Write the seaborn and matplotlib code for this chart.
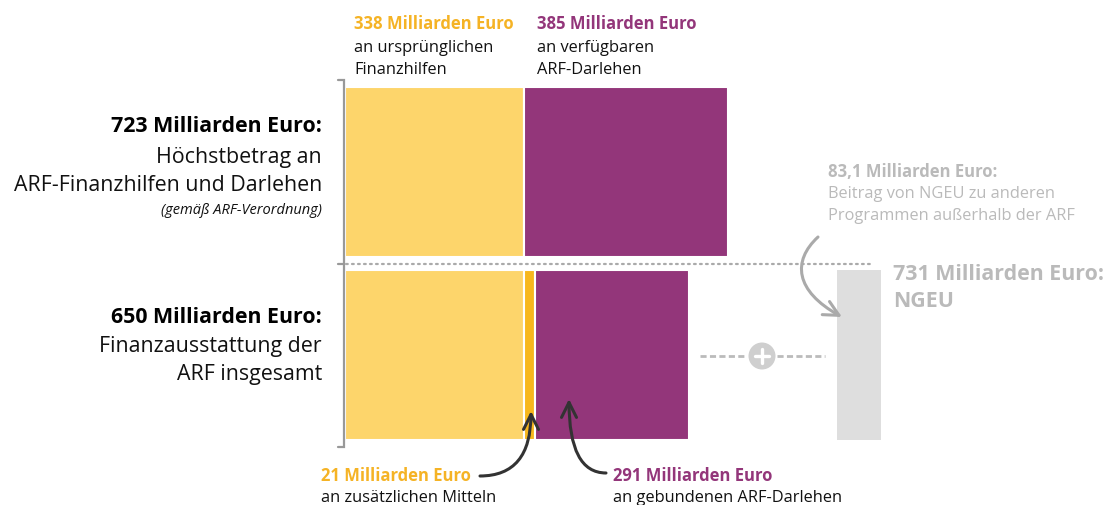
import numpy as np
import pandas as pd
import matplotlib
matplotlib.use("Agg")
import matplotlib.pyplot as plt
import seaborn as sns
from matplotlib.patches import FancyArrowPatch, Circle
from matplotlib.path import Path
from matplotlib.lines import Line2D
from matplotlib.transforms import IdentityTransform

# ---------------- data ----------------
rows = ["Höchstbetrag", "Finanzausstattung"]
grants_orig = [338, 338]     # ursprüngliche Finanzhilfen
grants_extra = [0, 21]       # zusätzliche Mittel
loans = [385, 291]           # verfügbare / gebundene ARF-Darlehen
ngeu_other = [0, 83.1]       # Beitrag von NGEU zu anderen Programmen
totals = [723, 650]
ngeu_total = 731

# ---------------- style ----------------
sns.set_theme(style="white")
FONT = ["Open Sans", "DejaVu Sans"]
plt.rcParams["font.family"] = FONT

YEL_BAR = "#FDD56B"
ORA_BAR = "#F7B71D"
YEL_TXT = "#F5B325"
PUR = "#93367A"
GREY_BAR = "#DEDEDE"
GREY_TXT = "#BABABA"
DARK = "#333333"

W, H = 1112, 506
fig = plt.figure(figsize=(W / 100, H / 100), dpi=100)
ax = fig.add_axes([0, 0, 1, 1])

df = pd.DataFrame({"row": rows, "orig": grants_orig, "extra": grants_extra,
                   "loans": loans, "other": ngeu_other})
df["left_extra"] = df["orig"]
df["left_loans"] = df["orig"] + df["extra"]

BAR_W = 0.93
common = dict(data=df, y="row", order=rows, orient="y", width=BAR_W,
              errorbar=None, saturation=1, ax=ax)
sns.barplot(x="orig", color=YEL_BAR, edgecolor="white", linewidth=1.5, **common)
sns.barplot(x="extra", color=ORA_BAR, edgecolor="white", linewidth=1.5,
            left=df["left_extra"].to_numpy(), **common)
sns.barplot(x="loans", color=PUR, edgecolor="white", linewidth=1.5,
            left=df["left_loans"].to_numpy(), **common)
NGEU_LEFT = 929
sns.barplot(x="other", color=GREY_BAR, linewidth=0,
            left=np.full(len(rows), NGEU_LEFT), **common)

# map data to the reference pixel grid
K = 0.5297   # px per unit
X0 = 345     # px of value 0
ax.set_xlim(-X0 / K, (W - X0) / K)
ax.set_ylim(1 + (H - 356) / 183, -173 / 183)
ax.set_axis_off()

# ---------------- helpers ----------------
def T(x, y, s, size, color, weight="normal", ha="left", style="normal"):
    fig.text(x / W, 1 - y / H, s, fontsize=size, color=color, fontweight=weight,
             ha=ha, va="baseline", style=style, family=FONT)

def L(xs, ys, **kw):
    fig.add_artist(Line2D([x / W for x in xs], [1 - y / H for y in ys],
                          transform=fig.transFigure, **kw))

# ---------------- bracket & separators ----------------
L([338, 344, 344, 338], [81, 81, 448, 448], color="#999999", lw=1.6,
  solid_joinstyle="miter")
L([338, 344], [265, 265], color="#999999", lw=1.6)
L([346, 872], [265, 265], color="#AAAAAA", lw=1.6, linestyle=(0, (0.8, 1.9)),
  dash_capstyle="round")

# ---------------- texts ----------------
S_SB = 12.0    # small bold
S_SR = 11.8    # small regular
S_BIG = 15.4
T(354, 29, f"{grants_orig[0]} Milliarden Euro", S_SB, YEL_TXT, "bold")
T(354, 52, "an ursprünglichen", S_SR, "#111111")
T(354, 74, "Finanzhilfen", S_SR, "#111111")
T(537, 29, f"{loans[0]} Milliarden Euro", S_SB, PUR, "bold")
T(537, 52, "an verfügbaren", S_SR, "#111111")
T(537, 74, "ARF-Darlehen", S_SR, "#111111")

T(322, 132, f"{totals[0]} Milliarden Euro:", S_BIG, "#000000", "bold", ha="right")
T(322, 163, "Höchstbetrag an", S_BIG, "#111111", ha="right")
T(322, 191, "ARF-Finanzhilfen und Darlehen", S_BIG, "#111111", ha="right")
T(322, 214, "(gemäß ARF-Verordnung)", 10.5, "#111111", ha="right", style="italic")

T(322, 323, f"{totals[1]} Milliarden Euro:", S_BIG, "#000000", "bold", ha="right")
T(322, 352, "Finanzausstattung der", S_BIG, "#111111", ha="right")
T(322, 380, "ARF insgesamt", S_BIG, "#111111", ha="right")

ngeu_txt = f"{ngeu_other[1]:.1f}".replace(".", ",")
T(828, 177, f"{ngeu_txt} Milliarden Euro:", S_SB, GREY_TXT, "bold")
T(828, 198, "Beitrag von NGEU zu anderen", S_SR, GREY_TXT)
T(828, 220, "Programmen außerhalb der ARF", S_SR, GREY_TXT)
T(893, 280, f"{ngeu_total} Milliarden Euro:", S_BIG, GREY_TXT, "bold")
T(893, 307, "NGEU", S_BIG, GREY_TXT, "bold")

T(321, 481, f"{grants_extra[1]} Milliarden Euro", S_SB, YEL_TXT, "bold")
T(321, 502, "an zusätzlichen Mitteln", S_SR, "#111111")
T(613, 481, f"{loans[1]} Milliarden Euro", S_SB, PUR, "bold")
T(613, 502, "an gebundenen ARF-Darlehen", S_SR, "#111111")

# ---------------- arrows ----------------
def P(x, y):
    return (x, H - y)

arrow_kw = dict(arrowstyle="->,head_length=0.9,head_width=0.45", lw=2.2,
                color=DARK, shrinkA=0, shrinkB=0)
ax.annotate("", xy=P(531, 412), xycoords="figure pixels",
            xytext=P(480, 477), textcoords="figure pixels",
            arrowprops=dict(connectionstyle="angle3,angleA=0,angleB=90", **arrow_kw))
ax.annotate("", xy=P(569, 400), xycoords="figure pixels",
            xytext=P(606, 474), textcoords="figure pixels",
            arrowprops=dict(connectionstyle="angle3,angleA=180,angleB=90", **arrow_kw))

gpath = Path([P(818, 238), P(792, 262), P(795, 292), P(842, 318)],
             [Path.MOVETO, Path.CURVE4, Path.CURVE4, Path.CURVE4])
fig.add_artist(FancyArrowPatch(path=gpath, transform=IdentityTransform(),
                               arrowstyle="->,head_length=0.9,head_width=0.45",
                               mutation_scale=12, lw=2.2, color="#AAAAAA"))

# ---------------- plus sign ----------------
L([700, 747], [357, 357], color="#BBBBBB", lw=2, linestyle=(0, (2.2, 1.2)))
L([777, 825], [357, 357], color="#BBBBBB", lw=2, linestyle=(0, (2.2, 1.2)))
fig.add_artist(Circle(P(762, 357), 13.5, transform=IdentityTransform(),
                      color="#CFCFCF", lw=0))
L([755, 769], [357, 357], color="white", lw=2.4)
L([762, 762], [350, 364], color="white", lw=2.4)

fig.savefig("out.png", dpi=100)
